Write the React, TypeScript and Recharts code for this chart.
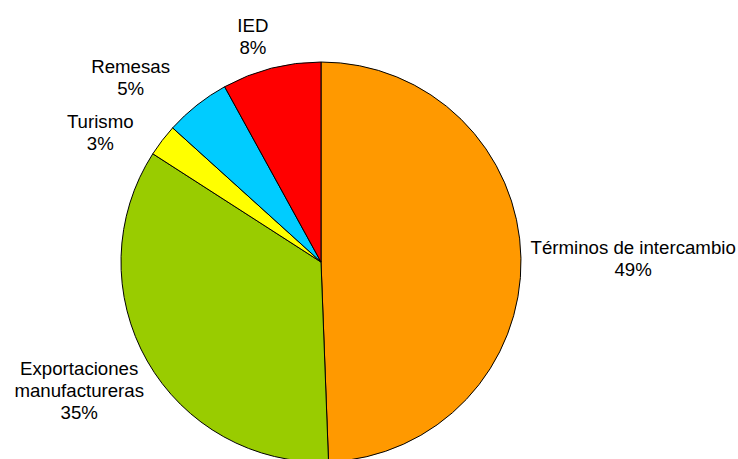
import React from 'react';
import { PieChart, Pie, Cell } from 'recharts';

// slices in clockwise order starting at 12 o'clock
const categories = ['Términos de intercambio', 'Exportaciones\nmanufactureras', 'Turismo', 'Remesas', 'IED'];
const shares = [49.4, 34.7, 2.6, 5.3, 8.0];
const colors = ['#FF9900', '#99CC00', '#FFFF00', '#00CCFF', '#FF0000'];

// small manual nudges for the outside labels (like Excel's best-fit placement)
const labelNudge = [
  [-5, 2],
  [-2, 9],
  [-27, 14],
  [-39, 1],
  [-12, 3],
];

const data = categories.map((name, i) => ({ name, value: shares[i] }));

const FONT = 18.67;
const LINE = 22;
const RAD = Math.PI / 180;

const renderLabel = (props: any) => {
  const { cx, cy, midAngle, outerRadius, percent, name, index } = props;
  const lines: string[] = [...String(name).split('\n'), `${Math.round(percent * 100)}%`];
  const dx = Math.cos(-midAngle * RAD);
  const dy = Math.sin(-midAngle * RAD);
  const r = outerRadius + 12;
  const w = Math.max(...lines.map((l) => l.length)) * FONT * 0.49;
  const h = lines.length * LINE;
  const [nx, ny] = labelNudge[index] || [0, 0];
  const bx = cx + r * dx + (dx * w) / 2 + nx;
  const by = cy + r * dy + (dy * h) / 2 + ny;
  const top = by - h / 2;
  return (
    <text
      x={bx}
      y={top}
      textAnchor="middle"
      fill="#000"
      fontSize={FONT}
      fontFamily="'Liberation Sans', Arial, sans-serif"
    >
      {lines.map((l, i) => (
        <tspan key={i} x={bx} y={top + LINE * i + 16}>
          {l}
        </tspan>
      ))}
    </text>
  );
};

export default function App() {
  return (
    <div style={{ position: 'absolute', left: 0, top: 0, width: 738, height: 459, background: '#fff' }}>
      <PieChart width={738} height={459} margin={{ top: 0, right: 0, bottom: 0, left: 0 }}>
        <Pie
          data={data}
          dataKey="value"
          nameKey="name"
          cx={321}
          cy={262}
          outerRadius={200}
          startAngle={90}
          endAngle={-270}
          stroke="#000"
          strokeWidth={1}
          label={renderLabel}
          labelLine={false}
          isAnimationActive={false}
        >
          {data.map((entry, index) => (
            <Cell key={`cell-${index}`} fill={colors[index]} />
          ))}
        </Pie>
      </PieChart>
    </div>
  );
}
